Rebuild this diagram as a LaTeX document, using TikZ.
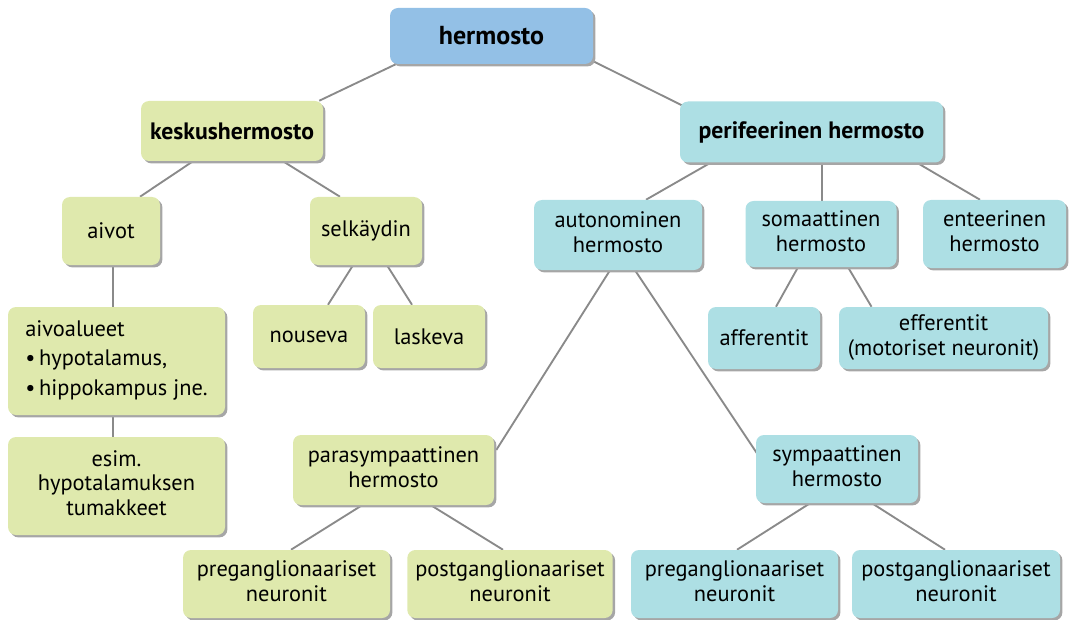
\documentclass[tikz,border=0pt]{standalone}
\usepackage{fontspec}
\setmainfont{PT Sans}
\usetikzlibrary{calc,shadows,backgrounds}
\definecolor{hblue}{RGB}{147,192,230}
\definecolor{hgreen}{RGB}{223,233,173}
\definecolor{hcyan}{RGB}{173,223,228}
\definecolor{hline}{RGB}{138,138,138}
\newcommand{\boxfont}{\fontsize{16.8}{18.3}\selectfont}
\newcommand{\headfont}{\fontsize{17.8}{19}\selectfont\bfseries}
\tikzstyle{box}=[rounded corners=6pt,inner sep=0pt,font=\boxfont,drop shadow={shadow xshift=1.8pt,shadow yshift=-1.8pt,fill=black!35,opacity=1}]
\tikzstyle{rootbox}=[box,fill=hblue,font=\fontsize{19.5}{21}\selectfont\bfseries]
\tikzstyle{cnsbox}=[box,fill=hgreen]
\tikzstyle{pnsbox}=[box,fill=hcyan]
\tikzstyle{link}=[draw=hline,line width=1.4pt]
\tikzset{boxsize/.style 2 args={minimum width=#1*0.75pt,minimum height=#2*0.75pt}}

\begin{document}
\begin{tikzpicture}[x=0.75pt,y=-0.75pt]
    \useasboundingbox (0,0) rectangle (1069,620);

    \node[rootbox,boxsize={203}{56}] (hermosto) at (491.5,36) {hermosto};
    \node[cnsbox,boxsize={182}{60},font=\headfont] (keskus) at (232,131) {keskushermosto};
    \node[pnsbox,boxsize={263}{61},font=\headfont] (perif) at (811.5,132) {perifeerinen hermosto};

    \node[cnsbox,boxsize={98}{68}] (aivot) at (111,231) {aivot};
    \node[cnsbox,boxsize={112}{68}] (selkaydin) at (366,231) {selkäydin};
    \node[pnsbox,boxsize={168}{70}] (autonom) at (618,235) {\begin{tabular}{c}autonominen\\ hermosto\end{tabular}};
    \node[pnsbox,boxsize={151}{66}] (somaat) at (821,234) {\begin{tabular}{c}somaattinen\\ hermosto\end{tabular}};
    \node[pnsbox,boxsize={143}{68}] (enteer) at (994.5,234) {\begin{tabular}{c}enteerinen\\ hermosto\end{tabular}};

    \node[cnsbox,boxsize={112}{63}] (nouseva) at (309,336.5) {nouseva};
    \node[cnsbox,boxsize={112}{63}] (laskeva) at (429,336.5) {laskeva};
    \node[pnsbox,boxsize={112}{62}] (afferent) at (764,338) {afferentit};
    \node[pnsbox,boxsize={209}{62}] (efferent) at (943.5,338) {\begin{tabular}{c}efferentit\\ (motoriset neuronit)\end{tabular}};

    \node[cnsbox,boxsize={217}{108}] (alueet) at (116.5,361) {\begin{tabular}{l}aivoalueet\\[4pt] \textbullet\,hypotalamus,\\[4pt] \textbullet\,hippokampus jne.\end{tabular}};
    \node[cnsbox,boxsize={217}{98}] (tumakkeet) at (116.5,486) {\begin{tabular}{c}esim.\\ hypotalamuksen\\ tumakkeet\end{tabular}};

    \node[cnsbox,boxsize={201}{70}] (parasymp) at (393.5,470) {\begin{tabular}{c}parasympaattinen\\ hermosto\end{tabular}};
    \node[pnsbox,boxsize={162}{68}] (symp) at (837,469) {\begin{tabular}{c}sympaattinen\\ hermosto\end{tabular}};

    \node[cnsbox,boxsize={207}{68}] (paraPre) at (286.5,584) {\begin{tabular}{c}preganglionaariset\\ neuronit\end{tabular}};
    \node[cnsbox,boxsize={204}{68}] (paraPost) at (510,584) {\begin{tabular}{c}postganglionaariset\\ neuronit\end{tabular}};
    \node[pnsbox,boxsize={207}{68}] (sympPre) at (734.5,584) {\begin{tabular}{c}preganglionaariset\\ neuronit\end{tabular}};
    \node[pnsbox,boxsize={208}{68}] (sympPost) at (956,584) {\begin{tabular}{c}postganglionaariset\\ neuronit\end{tabular}};

    % connectors go behind the boxes
    \begin{pgfonlayer}{background}
    \draw[link] ($(hermosto.south west)+(6,0)$) -- ($(keskus.north east)+(-4,0)$);
    \draw[link] ($(hermosto.south east)+(0,-3)$) -- ($(perif.north west)+(2,4)$);
    \draw[link] ($(keskus.south)+(-39,0)$) -- ($(aivot.north)+(29,0)$);
    \draw[link] ($(keskus.south)+(51,0)$) -- ($(selkaydin.north)+(-26,0)$);
    \draw[link] ($(perif.south)+(-101,0)$) -- ($(autonom.north)+(28,0)$);
    \draw[link] ($(perif.south)+(10.5,0)$) -- ($(somaat.north)+(1,0)$);
    \draw[link] ($(perif.south)+(105.5,0)$) -- ($(enteer.north)+(-14.5,0)$);
    \draw[link] ($(aivot.south)+(2,0)$) -- ($(alueet.north)+(-3.5,0)$);
    \draw[link] ($(alueet.south)+(-3.5,0)$) -- ($(tumakkeet.north)+(-3.5,0)$);
    \draw[link] ($(selkaydin.south)+(-13,0)$) -- ($(nouseva.north)+(19,0)$);
    \draw[link] ($(selkaydin.south)+(21,0)$) -- ($(laskeva.north)+(-17,0)$);
    \draw[link] ($(somaat.south)+(-23,0)$) -- ($(afferent.north)+(12,0)$);
    \draw[link] ($(somaat.south)+(27,0)$) -- ($(efferent.north)+(-72,0)$);
    \draw[link] ($(autonom.south)+(-8,0)$) -- ($(parasymp.east)+(2,-20)$);
    \draw[link] ($(autonom.south)+(17,0)$) -- ($(symp.west)+(1,-16)$);
    \draw[link] ($(parasymp.south)+(-31.5,0)$) -- ($(paraPre.north)+(4.5,0)$);
    \draw[link] ($(parasymp.south)+(37.5,0)$) -- ($(paraPost.north)+(-7,0)$);
    \draw[link] ($(symp.south)+(-27,0)$) -- ($(sympPre.north)+(2.5,0)$);
    \draw[link] ($(symp.south)+(35,0)$) -- ($(sympPost.north)+(-11,0)$);
    \end{pgfonlayer}
\end{tikzpicture}
\end{document}
